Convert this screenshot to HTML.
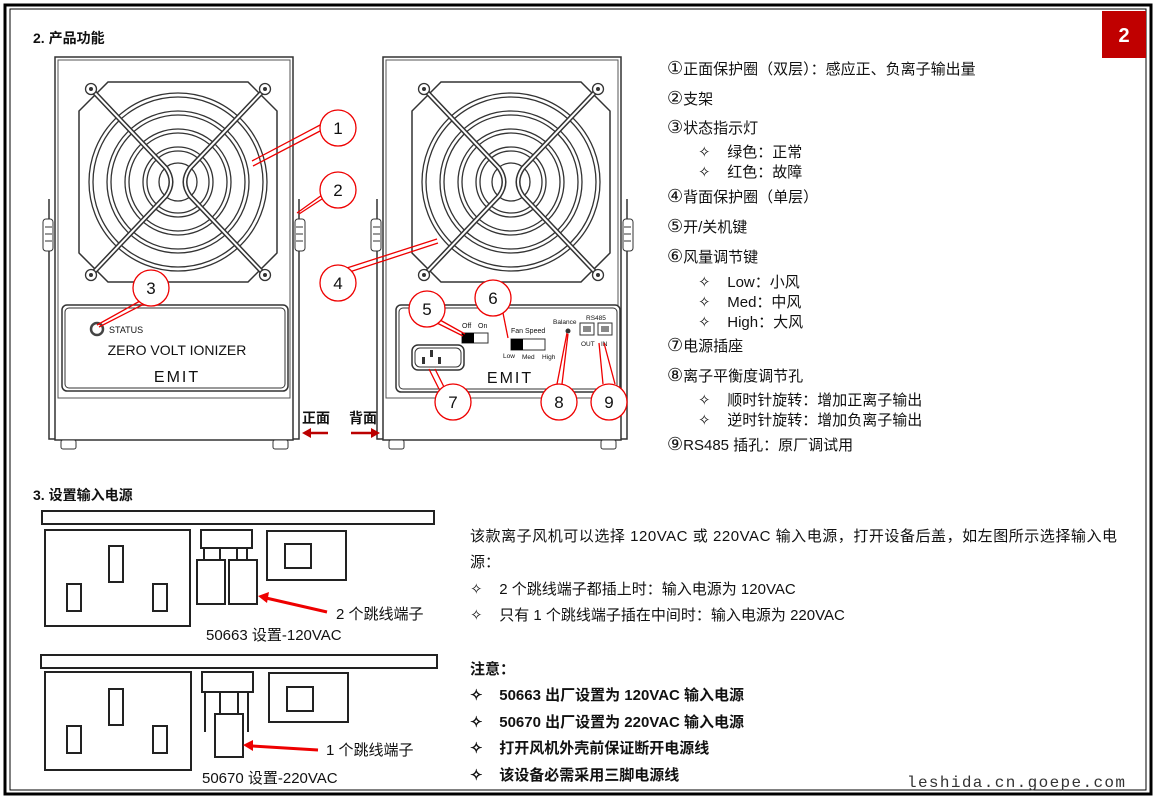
<!DOCTYPE html>
<html><head><meta charset="utf-8"><style>
body{margin:0;background:#fff;}
svg{display:block;}
text{font-family:"Liberation Sans","Noto Sans CJK SC",sans-serif;fill:#111;white-space:pre;}
.cn{font-size:14px;}
.c15{font-size:15px;}
.b{font-weight:bold;}
.ci{font-family:"DejaVu Sans",sans-serif;font-size:18px;}
.wm{font-family:"Liberation Mono",monospace;font-size:16px;fill:#333;}
</style></head><body>
<svg width="1159" height="800" viewBox="0 0 1159 800" xmlns="http://www.w3.org/2000/svg" xml:space="preserve">
<defs>
<g id="fan">
<polygon points="-70,-100 70,-100 99,-71 99,71 70,100 -70,100 -99,71 -99,-71" fill="#fff" stroke="#333" stroke-width="1.5"/>
<g fill="none" stroke="#333" stroke-width="1.3">
<circle r="89"/><circle r="85"/><circle r="71"/><circle r="67"/><circle r="53"/><circle r="49"/><circle r="35"/><circle r="31"/><circle r="19"/>
</g>
<g fill="none" stroke-linecap="round">
<path d="M-86,-92 L-12,-14 Q-2,0 -12,14 L-86,92 M86,-92 L12,-14 Q2,0 12,14 L86,92" stroke="#333" stroke-width="5"/>
<path d="M-86,-92 L-12,-14 Q-2,0 -12,14 L-86,92 M86,-92 L12,-14 Q2,0 12,14 L86,92" stroke="#fff" stroke-width="2"/>
</g>
<g fill="#fff" stroke="#333" stroke-width="1.3">
<circle cx="-87" cy="-93" r="5.5"/><circle cx="87" cy="-93" r="5.5"/><circle cx="-87" cy="93" r="5.5"/><circle cx="87" cy="93" r="5.5"/>
</g>
<g fill="#333"><circle cx="-87" cy="-93" r="2"/><circle cx="87" cy="-93" r="2"/><circle cx="-87" cy="93" r="2"/><circle cx="87" cy="93" r="2"/></g>
</g>
<g id="unit">
<path d="M-6,142 V382 H244 V142" fill="none" stroke="#333" stroke-width="1.5"/>
<rect x="0" y="0" width="238" height="383" fill="#fff" stroke="#333" stroke-width="1.5"/>
<rect x="3" y="3" width="232" height="338" fill="none" stroke="#555" stroke-width="1"/>
<rect x="-12" y="162" width="10" height="32" rx="3" fill="#fff" stroke="#333"/>
<path d="M-10,170 h7 M-10,177 h7 M-10,184 h7" stroke="#333"/>
<rect x="240" y="162" width="10" height="32" rx="3" fill="#fff" stroke="#333"/>
<path d="M241,170 h7 M241,177 h7 M241,184 h7" stroke="#333"/>
<rect x="6" y="383" width="15" height="9" rx="2" fill="#fff" stroke="#333"/>
<rect x="218" y="383" width="15" height="9" rx="2" fill="#fff" stroke="#333"/>
</g>
</defs>

<rect x="5" y="5" width="1146" height="789" fill="none" stroke="#000" stroke-width="3"/>
<rect x="10" y="9" width="1136" height="781" fill="none" stroke="#000" stroke-width="1"/>
<rect x="1102" y="11" width="44" height="47" fill="#c00000"/>
<text x="1124" y="42" text-anchor="middle" font-size="20" font-weight="bold" style="fill:#fff">2</text>

<text x="33" y="43" class="cn b">2. 产品功能</text>

<use href="#unit" x="55" y="57"/>
<use href="#fan" x="178" y="182"/>
<rect x="62" y="305" width="226" height="86" rx="5" fill="#fff" stroke="#333" stroke-width="1.5"/>
<rect x="65" y="308" width="220" height="80" rx="4" fill="none" stroke="#333"/>
<circle cx="97" cy="329" r="6" fill="#fff" stroke="#444" stroke-width="2.5"/>
<text x="109" y="333" font-size="9">STATUS</text>
<text x="177" y="355" font-size="14" text-anchor="middle">ZERO VOLT IONIZER</text>
<text x="177" y="382" font-size="16" text-anchor="middle" letter-spacing="2">EMIT</text>

<use href="#unit" x="383" y="57"/>
<use href="#fan" x="511" y="182"/>
<rect x="396" y="305" width="224" height="87" rx="5" fill="#fff" stroke="#333" stroke-width="1.5"/>
<rect x="399" y="308" width="218" height="81" rx="4" fill="none" stroke="#333"/>
<rect x="412" y="345" width="52" height="25" rx="6" fill="#fff" stroke="#333" stroke-width="1.5"/>
<rect x="415" y="348" width="46" height="19" rx="5" fill="none" stroke="#333"/>
<rect x="430" y="350" width="3" height="7" fill="#333"/><rect x="422" y="357" width="3" height="7" fill="#333"/><rect x="438" y="357" width="3" height="7" fill="#333"/>
<text x="462" y="328" font-size="7">Off</text><text x="478" y="328" font-size="7">On</text>
<rect x="462" y="333" width="26" height="10" fill="#fff" stroke="#333"/><rect x="462" y="333" width="12" height="10" fill="#000"/>
<text x="511" y="333" font-size="7">Fan Speed</text>
<rect x="511" y="339" width="34" height="11" fill="#fff" stroke="#333"/><rect x="511" y="339" width="12" height="11" fill="#000"/>
<text x="503" y="358" font-size="6.5">Low</text><text x="522" y="359" font-size="6.5">Med</text><text x="542" y="359" font-size="6.5">High</text>
<text x="553" y="324" font-size="6.5">Balance</text>
<circle cx="568" cy="331" r="2.5" fill="#333"/>
<text x="586" y="320" font-size="6.5">RS485</text>
<rect x="580" y="323" width="14" height="12" fill="#fff" stroke="#333"/><rect x="598" y="323" width="14" height="12" fill="#fff" stroke="#333"/>
<rect x="583" y="326" width="8" height="6" fill="#888"/><rect x="601" y="326" width="8" height="6" fill="#888"/>
<text x="581" y="346" font-size="6.5">OUT</text><text x="601" y="346" font-size="6.5">IN</text>
<text x="510" y="383" font-size="16" text-anchor="middle" letter-spacing="2">EMIT</text>

<text x="302" y="423" class="cn b">正面</text>
<text x="349" y="423" class="cn b">背面</text>
<path d="M328,433 H310" stroke="#b00" stroke-width="2.5"/><polygon points="302,433 311,428 311,438" fill="#b00"/>
<path d="M351,433 H372" stroke="#b00" stroke-width="2.5"/><polygon points="380,433 371,428 371,438" fill="#b00"/>

<g stroke="#e00" stroke-width="1.3" fill="none">
<path d="M322,124 L252,161 M322,130 L253,166"/>
<path d="M322,195 L297,213 M322,199 L299,214"/>
<path d="M140,301 L97,325 M146,303 L99,327"/>
<path d="M322,276 L437,239 M322,281 L438,243"/>
<path d="M440,320 L465,334 M437,323 L463,336"/>
<path d="M503,313 L508,338"/>
<path d="M439,389 L429,369 M444,387 L435,369"/>
<path d="M557,384 L567,333 M562,384 L568,334"/>
<path d="M603,384 L599,343 M615,384 L604,343"/>
</g>
<g fill="#fff" stroke="#e00" stroke-width="1.3">
<circle cx="338" cy="128" r="18"/><circle cx="338" cy="190" r="18"/><circle cx="151" cy="288" r="18"/><circle cx="338" cy="283" r="18"/>
<circle cx="427" cy="309" r="18"/><circle cx="493" cy="298" r="18"/><circle cx="453" cy="402" r="18"/><circle cx="559" cy="402" r="18"/><circle cx="609" cy="402" r="18"/>
</g>
<g font-size="17" text-anchor="middle">
<text x="338" y="134">1</text><text x="338" y="196">2</text><text x="151" y="294">3</text><text x="338" y="289">4</text>
<text x="427" y="315">5</text><text x="493" y="304">6</text><text x="453" y="408">7</text><text x="559" y="408">8</text><text x="609" y="408">9</text>
</g>

<g class="c15">
<text x="667" y="74"><tspan class="ci">①</tspan>正面保护圈（双层）：感应正、负离子输出量</text>
<text x="667" y="104"><tspan class="ci">②</tspan>支架</text>
<text x="667" y="133"><tspan class="ci">③</tspan>状态指示灯</text>
<text x="698" y="157">✧    绿色：正常</text>
<text x="698" y="177">✧    红色：故障</text>
<text x="667" y="202"><tspan class="ci">④</tspan>背面保护圈（单层）</text>
<text x="667" y="232"><tspan class="ci">⑤</tspan>开/关机键</text>
<text x="667" y="262"><tspan class="ci">⑥</tspan>风量调节键</text>
<text x="698" y="287">✧    Low：小风</text>
<text x="698" y="307">✧    Med：中风</text>
<text x="698" y="327">✧    High：大风</text>
<text x="667" y="351"><tspan class="ci">⑦</tspan>电源插座</text>
<text x="667" y="381"><tspan class="ci">⑧</tspan>离子平衡度调节孔</text>
<text x="698" y="405">✧    顺时针旋转：增加正离子输出</text>
<text x="698" y="425">✧    逆时针旋转：增加负离子输出</text>
<text x="667" y="450"><tspan class="ci">⑨</tspan>RS485 插孔：原厂调试用</text>
</g>

<text x="33" y="500" class="cn b">3. 设置输入电源</text>
<g fill="none" stroke="#222" stroke-width="2">
<rect x="42" y="511" width="392" height="13"/>
<rect x="45" y="530" width="145" height="96"/>
<rect x="109" y="546" width="14" height="36"/><rect x="67" y="584" width="14" height="27"/><rect x="153" y="584" width="14" height="27"/>
<rect x="201" y="530" width="51" height="18"/>
<path d="M204,548 v11 M220,548 v11 M237,548 v11 M247,548 v11"/>
<rect x="197" y="560" width="28" height="44"/><rect x="229" y="560" width="28" height="44"/>
<rect x="267" y="531" width="79" height="49"/><rect x="285" y="544" width="26" height="24"/>
<rect x="41" y="655" width="396" height="13"/>
<rect x="45" y="672" width="146" height="98"/>
<rect x="109" y="689" width="14" height="36"/><rect x="67" y="726" width="14" height="27"/><rect x="153" y="726" width="14" height="27"/>
<rect x="202" y="672" width="51" height="20"/>
<path d="M205,692 v40 M220,692 v22 M238,692 v22 M248,692 v40"/>
<rect x="215" y="714" width="28" height="43"/>
<rect x="269" y="673" width="79" height="49"/><rect x="287" y="687" width="26" height="24"/>
</g>
<path d="M327,612 L266,598" stroke="#e00" stroke-width="3"/><polygon points="258,596 269,592 267,603" fill="#e00"/>
<path d="M318,750 L252,746" stroke="#e00" stroke-width="3"/><polygon points="243,745 253,740 253,751" fill="#e00"/>
<text x="336" y="619" class="c15">2 个跳线端子</text>
<text x="206" y="640" class="c15">50663 设置-120VAC</text>
<text x="326" y="755" class="c15">1 个跳线端子</text>
<text x="202" y="783" class="c15">50670 设置-220VAC</text>

<g class="c15">
<text x="470" y="541" textLength="647" lengthAdjust="spacing">该款离子风机可以选择 120VAC 或 220VAC 输入电源，打开设备后盖，如左图所示选择输入电</text>
<text x="470" y="567">源：</text>
<text x="470" y="594">✧    2 个跳线端子都插上时：输入电源为 120VAC</text>
<text x="470" y="620">✧    只有 1 个跳线端子插在中间时：输入电源为 220VAC</text>
<text x="470" y="674" class="b">注意：</text>
<text x="470" y="700" class="b">✧    50663 出厂设置为 120VAC 输入电源</text>
<text x="470" y="727" class="b">✧    50670 出厂设置为 220VAC 输入电源</text>
<text x="470" y="753" class="b">✧    打开风机外壳前保证断开电源线</text>
<text x="470" y="780" class="b">✧    该设备必需采用三脚电源线</text>
</g>
<text x="907" y="787" class="wm" textLength="218" lengthAdjust="spacing">leshida.cn.goepe.com</text>
</svg>
</body></html>
